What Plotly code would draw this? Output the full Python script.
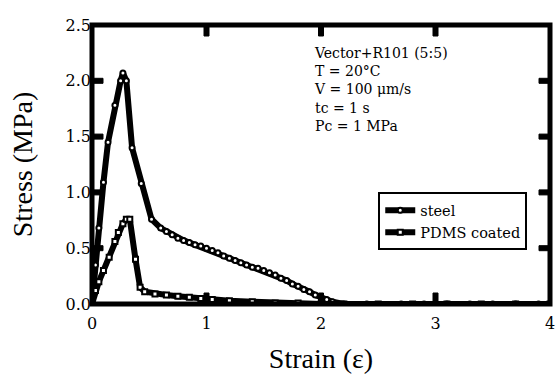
import plotly.graph_objects as go

steel_x = [0, 0.03, 0.06, 0.1, 0.14, 0.2, 0.25, 0.27, 0.3, 0.35, 0.43, 0.52, 0.6, 0.65, 0.7, 0.75, 0.8, 0.85,
           0.9, 0.95, 1.0, 1.05, 1.1, 1.15, 1.2, 1.25, 1.3, 1.35, 1.4, 1.45, 1.5, 1.55, 1.6, 1.65, 1.7, 1.75,
           1.8, 1.85, 1.9, 1.95, 2.0, 2.05, 2.1, 2.2, 2.4, 2.7, 2.9, 3.1, 3.3, 3.5, 3.7, 3.9, 4.0]
steel_y = [0, 0.35, 0.68, 1.09, 1.45, 1.78, 2.0, 2.07, 2.0, 1.4, 1.08, 0.76, 0.68, 0.65, 0.62, 0.59, 0.57, 0.55,
           0.53, 0.52, 0.50, 0.48, 0.46, 0.43, 0.41, 0.39, 0.37, 0.35, 0.33, 0.32, 0.30, 0.28, 0.26, 0.23, 0.21, 0.18,
           0.16, 0.13, 0.11, 0.08, 0.06, 0.04, 0.02, 0.0, 0.0, 0.0, 0.0, 0.0, 0.0, 0.0, 0.0, 0.0, 0.0]

pdms_x = [0, 0.03, 0.06, 0.1, 0.15, 0.2, 0.23, 0.27, 0.3, 0.33, 0.38, 0.42, 0.46, 0.55, 0.65, 0.75, 0.85, 0.95,
          1.05, 1.2, 1.4, 1.6, 1.8, 2.0, 2.2, 2.5, 2.8, 3.1, 3.4, 3.7, 4.0]
pdms_y = [0, 0.12, 0.2, 0.3, 0.42, 0.56, 0.64, 0.72, 0.76, 0.76, 0.4, 0.15, 0.11, 0.09, 0.08, 0.07, 0.06, 0.05,
          0.04, 0.03, 0.02, 0.01, 0.01, 0.0, 0.0, 0.0, 0.0, 0.0, 0.0, 0.0, 0.0]

x_ticks = [0, 1, 2, 3, 4]
y_ticks = [0.0, 0.5, 1.0, 1.5, 2.0, 2.5]
y_tick_labels = ["0.0", "0.5", "1.0", "1.5", "2.0", "2.5"]

TICKFONT = "DejaVu Serif"
TITLEFONT = "Liberation Serif"

W, H = 557, 376
ML, MR, MT, MB = 92, 7, 25, 72
PW, PH = W - ML - MR, H - MT - MB
TL = 11   # tick length px
TW = 5    # tick width px
XR = [0, 4]
YR = [0, 2.5]

fig = go.Figure()
fig.add_trace(go.Scatter(
    x=steel_x, y=steel_y, mode="lines+markers", name="steel",
    line=dict(color="black", width=6),
    marker=dict(symbol="circle", size=5, color="white", line=dict(color="black", width=2)),
))
fig.add_trace(go.Scatter(
    x=pdms_x, y=pdms_y, mode="lines+markers", name="PDMS coated",
    line=dict(color="black", width=6),
    marker=dict(symbol="square", size=5, color="white", line=dict(color="black", width=2)),
))

shapes = [dict(type="rect", xref="paper", yref="paper", x0=0, x1=1, y0=0, y1=1,
               line=dict(color="black", width=5), layer="above")]
hx = (TW / 2) / PW
hy = (TW / 2) / PH
for xv in x_ticks[1:-1]:
    xp = (xv - XR[0]) / (XR[1] - XR[0])
    for y0, y1 in [(0, TL / PH), (1 - TL / PH, 1)]:
        shapes.append(dict(type="rect", xref="paper", yref="paper", x0=xp - hx, x1=xp + hx, y0=y0, y1=y1,
                           fillcolor="black", line=dict(color="black", width=1), layer="above"))
for yv in y_ticks[1:-1]:
    yp = (yv - YR[0]) / (YR[1] - YR[0])
    for x0, x1 in [(0, TL / PW), (1 - TL / PW, 1)]:
        shapes.append(dict(type="rect", xref="paper", yref="paper", x0=x0, x1=x1, y0=yp - hy, y1=yp + hy,
                           fillcolor="black", line=dict(color="black", width=1), layer="above"))

fig.update_layout(
    template="none",
    width=W, height=H,
    margin=dict(l=ML, r=MR, t=MT, b=MB),
    paper_bgcolor="white", plot_bgcolor="white",
    showlegend=True,
    shapes=shapes,
    xaxis=dict(
        range=XR, tickmode="array", tickvals=x_ticks, ticktext=[str(v) for v in x_ticks],
        showline=False, ticks="", showgrid=False, zeroline=False, ticklabelstandoff=8,
        tickfont=dict(family=TICKFONT, size=16, color="black"),
        title=dict(text="Strain (ε)", font=dict(family=TITLEFONT, size=28, color="black"), standoff=16),
    ),
    yaxis=dict(
        range=YR, tickmode="array", tickvals=y_ticks, ticktext=y_tick_labels,
        showline=False, ticks="", showgrid=False, zeroline=False,
        tickfont=dict(family=TICKFONT, size=16, color="black"),
        title=dict(text="Stress (MPa)", font=dict(family=TITLEFONT, size=28, color="black"), standoff=24),
    ),
    legend=dict(x=0.625, y=0.4, xanchor="left", yanchor="top",
                bordercolor="black", borderwidth=2, bgcolor="white",
                font=dict(family=TICKFONT, size=14.5, color="black"),
                itemwidth=30, tracegroupgap=0),
)

fig.add_annotation(
    x=0.48, y=0.935, xref="paper", yref="paper", xanchor="left", yanchor="top", align="left",
    showarrow=False,
    text="Vector+R101 (5:5)<br>T = 20°C<br>V = 100 μm/s<br>tc = 1 s<br>Pc = 1 MPa",
    font=dict(family=TICKFONT, size=14, color="black"),
)

fig.write_html("out.html")
